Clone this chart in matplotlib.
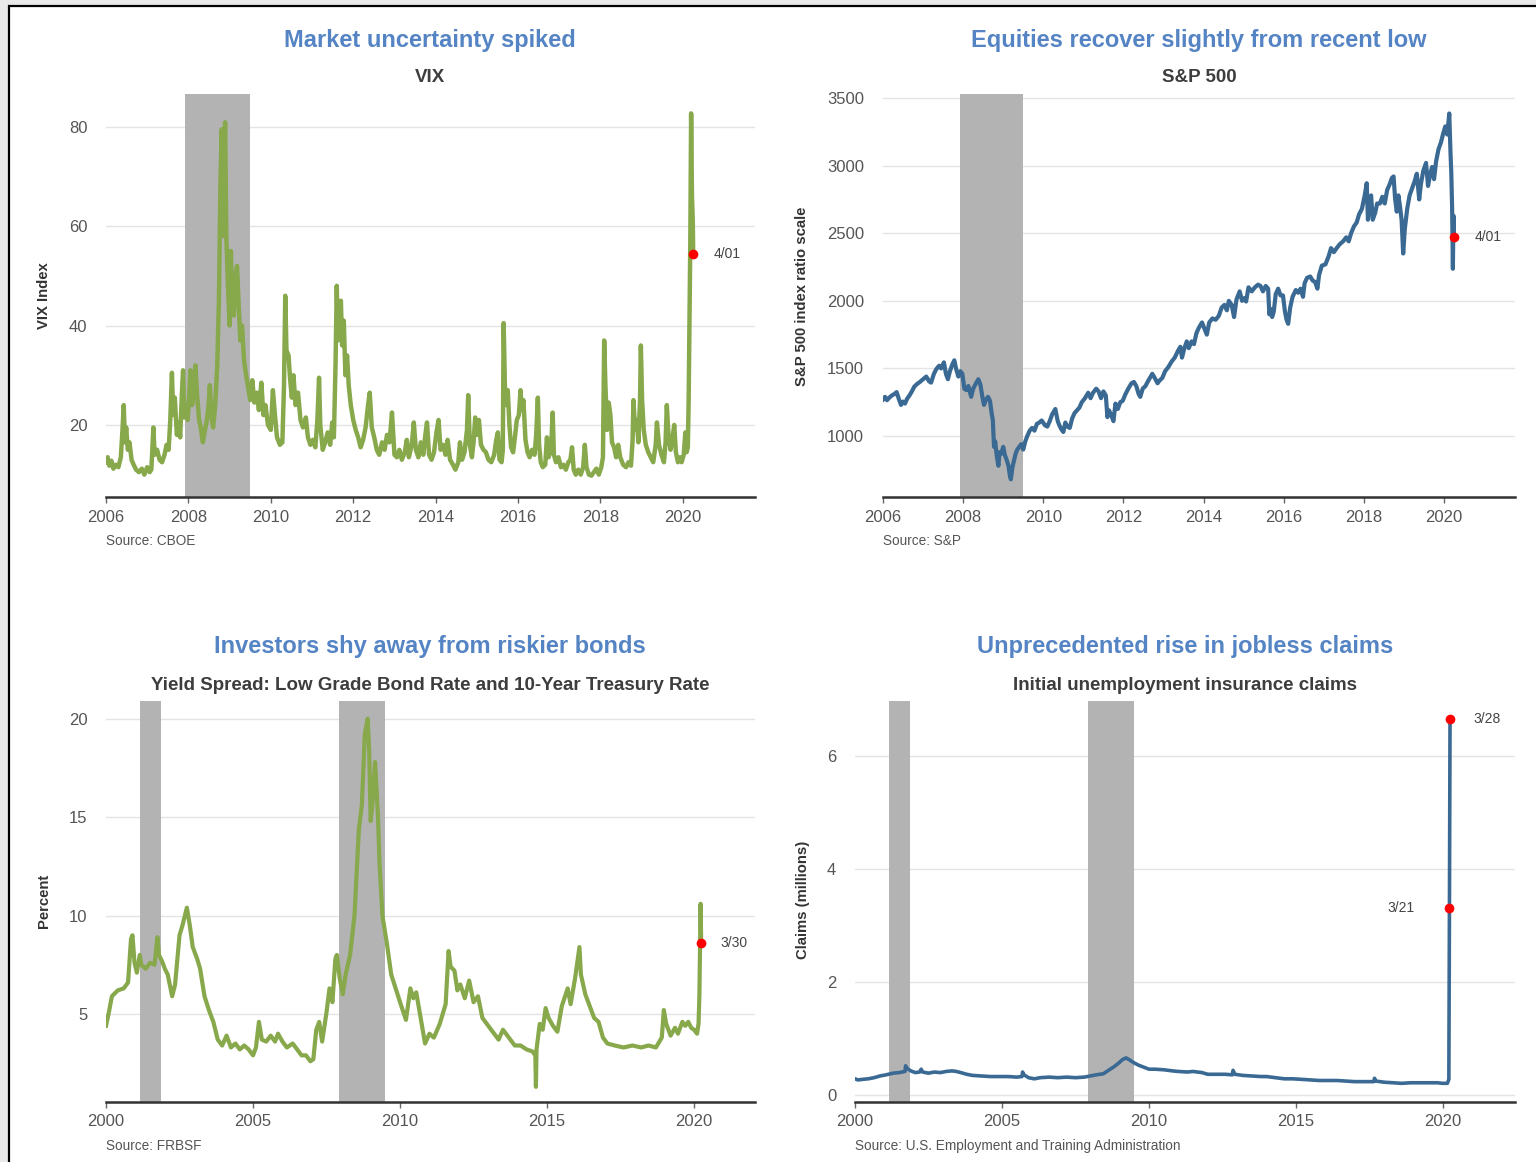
import matplotlib
matplotlib.use("Agg")
from matplotlib import pyplot as plt
from matplotlib.patches import Rectangle

plt.rcParams['font.family'] = ['Liberation Sans', 'DejaVu Sans']

W, H = 1536, 1162

## Data ##
vix_years = [2006.00, 2006.04, 2006.08, 2006.13, 2006.18, 2006.24, 2006.30, 2006.36, 2006.40, 2006.43, 2006.46, 2006.49, 2006.53, 2006.57, 2006.62, 2006.67, 2006.73, 2006.80, 2006.87, 2006.93,
             2007.00, 2007.06, 2007.10, 2007.15, 2007.18, 2007.24, 2007.30, 2007.36, 2007.42, 2007.47, 2007.52, 2007.56, 2007.60, 2007.63, 2007.67, 2007.72, 2007.77, 2007.80, 2007.84, 2007.87, 2007.90, 2007.94, 2007.98,
             2008.02, 2008.05, 2008.09, 2008.13, 2008.17, 2008.21, 2008.26, 2008.30, 2008.35, 2008.39, 2008.44, 2008.49, 2008.52, 2008.56, 2008.60, 2008.65, 2008.70, 2008.74, 2008.78, 2008.81, 2008.84, 2008.87, 2008.89, 2008.92, 2008.96,
             2009.00, 2009.03, 2009.06, 2009.10, 2009.14, 2009.18, 2009.22, 2009.26, 2009.30, 2009.35, 2009.40, 2009.45, 2009.50, 2009.55, 2009.60, 2009.66, 2009.71, 2009.77, 2009.82, 2009.87, 2009.93,
             2010.00, 2010.05, 2010.10, 2010.15, 2010.22, 2010.28, 2010.32, 2010.35, 2010.38, 2010.43, 2010.47, 2010.51, 2010.55, 2010.60, 2010.66, 2010.72, 2010.78, 2010.85, 2010.90, 2010.96,
             2011.02, 2011.08, 2011.13, 2011.17, 2011.20, 2011.26, 2011.32, 2011.38, 2011.44, 2011.49, 2011.53, 2011.57, 2011.60, 2011.63, 2011.66, 2011.70, 2011.73, 2011.77, 2011.81, 2011.85, 2011.89, 2011.94,
             2012.00, 2012.06, 2012.12, 2012.18, 2012.24, 2012.30, 2012.36, 2012.40, 2012.45, 2012.51, 2012.57, 2012.63, 2012.70, 2012.76, 2012.82, 2012.88, 2012.94,
             2013.00, 2013.06, 2013.12, 2013.18, 2013.25, 2013.30, 2013.35, 2013.42, 2013.47, 2013.52, 2013.58, 2013.64, 2013.70, 2013.75, 2013.79, 2013.84, 2013.90, 2013.96,
             2014.02, 2014.07, 2014.12, 2014.18, 2014.24, 2014.29, 2014.35, 2014.42, 2014.48, 2014.55, 2014.59, 2014.64, 2014.70, 2014.76, 2014.79, 2014.83, 2014.88, 2014.92, 2014.96,
             2015.01, 2015.05, 2015.10, 2015.16, 2015.22, 2015.28, 2015.35, 2015.42, 2015.47, 2015.51, 2015.55, 2015.60, 2015.63, 2015.65, 2015.68, 2015.71, 2015.75, 2015.79, 2015.83, 2015.88, 2015.93, 2015.97,
             2016.02, 2016.06, 2016.09, 2016.13, 2016.18, 2016.23, 2016.28, 2016.34, 2016.40, 2016.44, 2016.48, 2016.51, 2016.55, 2016.60, 2016.66, 2016.70, 2016.74, 2016.80, 2016.84, 2016.87, 2016.92, 2016.98,
             2017.04, 2017.10, 2017.16, 2017.22, 2017.27, 2017.31, 2017.35, 2017.40, 2017.46, 2017.52, 2017.58, 2017.62, 2017.66, 2017.72, 2017.78, 2017.84, 2017.90, 2017.96,
             2018.02, 2018.06, 2018.09, 2018.12, 2018.16, 2018.20, 2018.24, 2018.28, 2018.33, 2018.38, 2018.43, 2018.48, 2018.55, 2018.62, 2018.68, 2018.74, 2018.78, 2018.80, 2018.84, 2018.88, 2018.92, 2018.96, 2018.98,
             2019.01, 2019.05, 2019.10, 2019.16, 2019.22, 2019.28, 2019.34, 2019.37, 2019.42, 2019.48, 2019.54, 2019.58, 2019.61, 2019.65, 2019.70, 2019.75, 2019.79, 2019.83, 2019.88, 2019.93, 2019.97,
             2020.02, 2020.06, 2020.09, 2020.12, 2020.14, 2020.16, 2020.18, 2020.20, 2020.22, 2020.24, 2020.25]
vix_values = [12.5, 13.5, 11.8, 12.8, 11.2, 12.0, 11.5, 13.5, 19.0, 24.0, 16.5, 19.5, 15.0, 16.5, 13.0, 12.0, 11.0, 10.5, 11.2, 10.0,
              11.5, 10.5, 11.0, 19.5, 14.0, 15.0, 13.0, 12.5, 14.0, 16.0, 15.0, 21.0, 30.5, 22.0, 25.5, 18.0, 20.5, 17.5, 26.0, 31.0, 21.5, 24.0, 21.0,
              26.0, 31.0, 24.0, 27.5, 32.0, 26.0, 21.0, 19.5, 16.5, 18.5, 20.5, 24.0, 28.0, 21.5, 19.5, 24.0, 32.0, 45.0, 70.0, 79.5, 58.0, 72.0, 80.9, 58.0, 48.0,
              40.0, 55.0, 45.0, 42.0, 50.0, 52.0, 44.0, 37.0, 40.0, 33.0, 30.0, 27.5, 25.0, 29.0, 24.5, 26.5, 23.0, 28.5, 22.0, 24.0, 20.0,
              19.0, 27.0, 22.0, 17.5, 16.0, 16.5, 28.0, 46.0, 35.0, 34.0, 29.0, 25.5, 30.0, 24.0, 26.5, 21.0, 19.5, 21.5, 17.5, 16.0,
              17.0, 15.5, 21.0, 29.5, 20.0, 15.0, 16.5, 18.5, 16.0, 20.5, 17.5, 32.0, 48.0, 37.0, 42.0, 45.0, 36.0, 41.0, 30.0, 34.0, 28.0, 24.0,
              21.0, 19.0, 17.5, 15.5, 17.0, 19.5, 24.0, 26.5, 19.5, 17.5, 15.0, 14.0, 16.5, 15.0, 18.0, 16.5, 22.5,
              14.0, 13.5, 15.0, 13.0, 14.5, 17.0, 13.5, 16.0, 20.5, 15.0, 13.5, 16.5, 14.0, 18.0, 20.5, 14.0, 13.0, 14.5,
              18.5, 21.0, 15.0, 16.0, 14.0, 17.0, 13.0, 12.0, 11.0, 12.5, 16.5, 13.0, 14.5, 19.0, 26.0, 16.0, 13.5, 16.5, 21.5,
              18.0, 21.0, 16.0, 15.0, 14.5, 13.0, 12.5, 14.0, 17.0, 18.5, 13.0, 12.5, 15.0, 40.5, 28.0, 24.0, 27.0, 20.0, 15.5, 14.5, 18.0, 21.0,
              22.0, 27.0, 23.0, 25.0, 17.0, 14.5, 13.5, 15.0, 14.0, 18.0, 25.5, 16.0, 12.5, 11.5, 12.0, 17.5, 13.5, 15.0, 22.5, 14.0, 12.5, 13.5,
              11.5, 12.0, 11.0, 12.5, 13.0, 15.5, 11.0, 10.0, 11.0, 10.0, 11.5, 16.0, 11.5, 10.0, 9.8, 10.5, 11.2, 10.0,
              11.5, 13.5, 37.0, 28.0, 19.0, 24.5, 22.0, 16.5, 15.5, 13.5, 16.0, 13.5, 12.0, 11.5, 12.5, 11.8, 17.0, 25.0, 19.0, 21.0, 16.5, 25.0, 36.0,
              25.0, 19.0, 16.0, 14.5, 13.5, 12.5, 16.0, 20.5, 16.0, 14.0, 12.5, 16.5, 24.0, 18.0, 15.0, 17.5, 20.0, 14.5, 12.5, 13.5, 12.5,
              14.0, 18.5, 14.5, 15.5, 25.0, 40.0, 57.0, 82.7, 66.0, 61.0, 54.4]

sp_years = [2006.00, 2006.05, 2006.10, 2006.16, 2006.22, 2006.28, 2006.34, 2006.40, 2006.45, 2006.50, 2006.55, 2006.60, 2006.66, 2006.72, 2006.78, 2006.85, 2006.92,
            2007.00, 2007.08, 2007.15, 2007.20, 2007.27, 2007.33, 2007.40, 2007.45, 2007.52, 2007.57, 2007.62, 2007.67, 2007.73, 2007.78, 2007.83, 2007.88, 2007.93, 2007.98,
            2008.03, 2008.08, 2008.13, 2008.20, 2008.25, 2008.32, 2008.38, 2008.43, 2008.48, 2008.52, 2008.57, 2008.62, 2008.67, 2008.71, 2008.74, 2008.77, 2008.80, 2008.84, 2008.88, 2008.91, 2008.95,
            2009.00, 2009.04, 2009.09, 2009.13, 2009.17, 2009.19, 2009.23, 2009.27, 2009.31, 2009.35, 2009.40, 2009.45, 2009.50, 2009.55, 2009.60, 2009.66, 2009.72, 2009.78, 2009.84, 2009.90, 2009.96,
            2010.04, 2010.10, 2010.16, 2010.22, 2010.30, 2010.36, 2010.40, 2010.45, 2010.50, 2010.55, 2010.60, 2010.66, 2010.72, 2010.78, 2010.84, 2010.90, 2010.96,
            2011.04, 2011.12, 2011.18, 2011.24, 2011.32, 2011.38, 2011.44, 2011.50, 2011.56, 2011.60, 2011.64, 2011.70, 2011.75, 2011.80, 2011.86, 2011.92, 2011.98,
            2012.05, 2012.12, 2012.20, 2012.26, 2012.32, 2012.38, 2012.42, 2012.48, 2012.55, 2012.62, 2012.68, 2012.72, 2012.78, 2012.85, 2012.90, 2012.97,
            2013.04, 2013.12, 2013.20, 2013.28, 2013.36, 2013.42, 2013.46, 2013.52, 2013.58, 2013.63, 2013.70, 2013.76, 2013.82, 2013.88, 2013.96,
            2014.04, 2014.08, 2014.14, 2014.22, 2014.30, 2014.38, 2014.45, 2014.52, 2014.58, 2014.63, 2014.70, 2014.76, 2014.82, 2014.90, 2014.96,
            2015.02, 2015.06, 2015.12, 2015.20, 2015.28, 2015.36, 2015.42, 2015.48, 2015.55, 2015.61, 2015.64, 2015.67, 2015.71, 2015.75, 2015.80, 2015.86, 2015.92, 2015.98,
            2016.03, 2016.07, 2016.11, 2016.16, 2016.22, 2016.30, 2016.36, 2016.42, 2016.48, 2016.52, 2016.58, 2016.66, 2016.72, 2016.78, 2016.84, 2016.88, 2016.95,
            2017.04, 2017.12, 2017.18, 2017.25, 2017.32, 2017.40, 2017.48, 2017.56, 2017.62, 2017.68, 2017.75, 2017.82, 2017.88, 2017.95,
            2018.02, 2018.07, 2018.10, 2018.14, 2018.18, 2018.22, 2018.28, 2018.33, 2018.40, 2018.46, 2018.52, 2018.58, 2018.64, 2018.70, 2018.74, 2018.78, 2018.82, 2018.86, 2018.90, 2018.94, 2018.98,
            2019.02, 2019.08, 2019.14, 2019.20, 2019.26, 2019.32, 2019.38, 2019.42, 2019.48, 2019.55, 2019.60, 2019.65, 2019.70, 2019.75, 2019.80, 2019.86, 2019.92, 2019.98,
            2020.03, 2020.08, 2020.13, 2020.16, 2020.18, 2020.20, 2020.22, 2020.235, 2020.25]
sp_values = [1270, 1290, 1265, 1285, 1300, 1310, 1325, 1270, 1230, 1255, 1240, 1275, 1300, 1330, 1365, 1385, 1400,
             1420, 1440, 1405, 1395, 1460, 1495, 1520, 1500, 1545, 1460, 1420, 1480, 1530, 1560, 1490, 1440, 1480, 1460,
             1350, 1340, 1370, 1290, 1350, 1390, 1420, 1380, 1290, 1230, 1270, 1290, 1260, 1170, 1120, 920, 960, 850, 780, 880, 870,
             920, 860, 820, 780, 700, 680, 770, 820, 870, 900, 920, 940, 900, 960, 1000, 1040, 1060, 1040, 1090, 1100, 1115,
             1080, 1070, 1110, 1160, 1200, 1110, 1080, 1050, 1030, 1100, 1070, 1060, 1130, 1170, 1190, 1210, 1250,
             1280, 1320, 1280, 1320, 1350, 1330, 1280, 1330, 1300, 1140, 1190, 1150, 1110, 1240, 1200, 1250, 1260,
             1310, 1350, 1390, 1400, 1370, 1310, 1290, 1350, 1370, 1410, 1440, 1460, 1430, 1390, 1410, 1430,
             1480, 1510, 1550, 1580, 1630, 1660, 1580, 1650, 1700, 1650, 1700, 1680, 1760, 1800, 1840,
             1780, 1750, 1840, 1870, 1860, 1890, 1950, 1970, 1930, 2000, 1970, 1880, 2010, 2070, 2000,
             2020, 1995, 2100, 2070, 2100, 2120, 2110, 2070, 2110, 2090, 1900, 1940, 1880, 1920, 2050, 2090, 2040, 2040,
             1920, 1860, 1830, 1950, 2030, 2080, 2060, 2090, 2030, 2130, 2170, 2180, 2150, 2140, 2090, 2190, 2260,
             2270, 2330, 2390, 2360, 2390, 2420, 2440, 2470, 2440, 2500, 2550, 2580, 2640, 2680,
             2780, 2870, 2600, 2730, 2780, 2600, 2650, 2720, 2720, 2770, 2720, 2820, 2860, 2910, 2920, 2750, 2660, 2780, 2700, 2600, 2350,
             2530, 2680, 2780, 2830, 2880, 2940, 2750, 2860, 2960, 3020, 2850, 2930, 2990, 2900, 3030, 3120, 3170, 3240,
             3290, 3230, 3386, 3100, 2950, 2700, 2237, 2630, 2470]

spread_years = [2000.00, 2000.10, 2000.20, 2000.40, 2000.60, 2000.75, 2000.85, 2000.90, 2000.97, 2001.05, 2001.15, 2001.20, 2001.35, 2001.50, 2001.65, 2001.75, 2001.80, 2001.90,
                2002.00, 2002.10, 2002.25, 2002.35, 2002.50, 2002.60, 2002.75, 2002.85, 2002.95, 2003.10, 2003.20, 2003.35, 2003.50, 2003.65, 2003.80, 2003.95,
                2004.10, 2004.25, 2004.40, 2004.55, 2004.70, 2004.85, 2005.00, 2005.10, 2005.20, 2005.30, 2005.45, 2005.60, 2005.75, 2005.85,
                2006.00, 2006.15, 2006.35, 2006.50, 2006.65, 2006.80, 2006.95, 2007.05, 2007.15, 2007.25, 2007.35, 2007.50, 2007.60, 2007.70, 2007.80, 2007.85, 2007.95,
                2008.05, 2008.15, 2008.30, 2008.45, 2008.60, 2008.70, 2008.80, 2008.90, 2008.95, 2009.00, 2009.05, 2009.15, 2009.25, 2009.30, 2009.40, 2009.55, 2009.70, 2009.85,
                2010.00, 2010.20, 2010.35, 2010.45, 2010.55, 2010.70, 2010.85, 2011.00, 2011.15, 2011.35, 2011.55, 2011.65, 2011.72, 2011.85, 2011.95,
                2012.05, 2012.20, 2012.35, 2012.50, 2012.65, 2012.80, 2013.00, 2013.20, 2013.35, 2013.50, 2013.70, 2013.90,
                2014.10, 2014.30, 2014.50, 2014.60, 2014.62, 2014.64, 2014.75, 2014.85, 2014.95, 2015.05, 2015.20, 2015.35, 2015.50, 2015.70, 2015.80, 2015.95,
                2016.10, 2016.15, 2016.30, 2016.45, 2016.60, 2016.75, 2016.90, 2017.05, 2017.30, 2017.60, 2017.90, 2018.20, 2018.45, 2018.70, 2018.90, 2018.97,
                2019.05, 2019.20, 2019.35, 2019.45, 2019.60, 2019.70, 2019.80, 2019.90, 2020.00, 2020.10, 2020.15, 2020.18, 2020.22, 2020.24]
spread_values = [4.4, 5.1, 5.9, 6.2, 6.3, 6.6, 8.8, 9.0, 7.6, 7.1, 8.0, 7.5, 7.3, 7.6, 7.5, 8.9, 8.0, 7.7,
                 7.3, 7.0, 5.9, 6.5, 9.0, 9.5, 10.4, 9.5, 8.4, 7.8, 7.3, 5.9, 5.2, 4.6, 3.7, 3.4,
                 3.9, 3.3, 3.5, 3.2, 3.4, 3.2, 2.9, 3.3, 4.6, 3.7, 3.6, 3.9, 3.6, 4.0,
                 3.6, 3.3, 3.5, 3.2, 2.9, 2.9, 2.6, 2.7, 4.2, 4.6, 3.6, 5.1, 6.3, 5.6, 7.8, 8.0, 6.8,
                 6.0, 7.0, 8.0, 10.0, 14.4, 15.6, 19.2, 20.0, 18.4, 14.8, 15.5, 17.8, 15.0, 12.7, 10.0, 8.6, 7.0, 6.3,
                 5.6, 4.7, 6.3, 5.8, 6.1, 4.8, 3.5, 4.0, 3.8, 4.5, 5.5, 8.2, 7.4, 7.2, 6.2,
                 6.5, 5.8, 6.7, 5.6, 5.9, 4.8, 4.4, 4.0, 3.7, 4.2, 3.8, 3.4,
                 3.4, 3.2, 3.1, 2.9, 1.3, 3.2, 4.5, 4.2, 5.3, 4.8, 4.4, 4.1, 5.4, 6.3, 5.5, 6.8,
                 8.4, 7.0, 6.0, 5.4, 4.8, 4.6, 3.8, 3.5, 3.4, 3.3, 3.4, 3.3, 3.4, 3.3, 3.8, 5.2,
                 4.5, 3.9, 4.3, 4.0, 4.6, 4.4, 4.6, 4.3, 4.2, 4.0, 4.5, 6.0, 10.6, 8.6]

claims_years = [2000.00, 2000.10, 2000.25, 2000.45, 2000.65, 2000.85, 2001.05, 2001.30, 2001.50, 2001.70, 2001.72, 2001.78, 2001.90,
                2002.05, 2002.20, 2002.25, 2002.30, 2002.50, 2002.70, 2002.90, 2003.10, 2003.30, 2003.45, 2003.60, 2003.80,
                2004.00, 2004.30, 2004.60, 2004.90, 2005.20, 2005.50, 2005.68, 2005.70, 2005.75, 2005.90,
                2006.10, 2006.30, 2006.60, 2006.90, 2007.20, 2007.50, 2007.80, 2008.00, 2008.20, 2008.45, 2008.65, 2008.80, 2008.95,
                2009.10, 2009.22, 2009.35, 2009.50, 2009.65, 2009.80, 2010.00, 2010.20, 2010.50, 2010.80, 2011.00, 2011.30, 2011.50, 2011.80,
                2012.00, 2012.30, 2012.60, 2012.83, 2012.86, 2012.92, 2013.20, 2013.50, 2013.80, 2014.00, 2014.30, 2014.60, 2014.90,
                2015.20, 2015.50, 2015.80, 2016.10, 2016.40, 2016.70, 2017.00, 2017.40, 2017.65, 2017.67, 2017.72,
                2018.00, 2018.30, 2018.60, 2018.90, 2019.20, 2019.50, 2019.80, 2020.00, 2020.15, 2020.20, 2020.22, 2020.24]
claims_values = [0.29, 0.27, 0.28, 0.29, 0.31, 0.34, 0.36, 0.39, 0.40, 0.42, 0.52, 0.47, 0.43,
                 0.40, 0.41, 0.46, 0.41, 0.39, 0.41, 0.40, 0.42, 0.43, 0.42, 0.40, 0.37,
                 0.35, 0.34, 0.33, 0.33, 0.33, 0.32, 0.33, 0.41, 0.36, 0.31,
                 0.29, 0.31, 0.32, 0.31, 0.32, 0.31, 0.32, 0.34, 0.36, 0.38, 0.45, 0.50, 0.56,
                 0.63, 0.66, 0.62, 0.57, 0.53, 0.50, 0.46, 0.46, 0.45, 0.43, 0.42, 0.41, 0.42, 0.40,
                 0.37, 0.37, 0.37, 0.36, 0.44, 0.37, 0.35, 0.34, 0.33, 0.33, 0.31, 0.29, 0.29,
                 0.28, 0.27, 0.26, 0.26, 0.26, 0.25, 0.24, 0.24, 0.24, 0.30, 0.25,
                 0.23, 0.22, 0.21, 0.22, 0.22, 0.22, 0.22, 0.21, 0.21, 0.28, 3.31, 6.65]

recessions_short = [(2007.92, 2009.49)]
recessions_long = [(2001.17, 2001.88), (2007.92, 2009.49)]

GREEN = '#87a84b'
BLUE = '#3a6a93'
TITLE_BLUE = '#5584c4'
GRAY_TXT = '#555555'


## Utility Functions ##
def fx(x):
    return x / W

def fy(y):
    return 1 - y / H

def make_axes(fig, left, top, right, bottom):
    return fig.add_axes([fx(left), fy(bottom), (right - left) / W, (bottom - top) / H])

def style_axes(ax, xlim, ylim, xticks, yticks, recessions):
    ax.set_facecolor('none')
    ax.set_xlim(*xlim)
    ax.set_ylim(*ylim)
    ax.set_xticks(xticks)
    ax.set_xticklabels([str(t) for t in xticks])
    ax.set_yticks(yticks)
    ax.set_yticklabels([str(t) for t in yticks])
    for s in ['top', 'right', 'left']:
        ax.spines[s].set_visible(False)
    ax.spines['bottom'].set_color('#333333')
    ax.spines['bottom'].set_linewidth(1.8)
    ax.spines['bottom'].set_zorder(6)
    ax.yaxis.grid(True, color='#e4e4e4', lw=1.0, zorder=0)
    ax.set_axisbelow(True)
    ax.tick_params(axis='y', length=0, pad=13.5, labelsize=12, labelcolor=GRAY_TXT)
    ax.tick_params(axis='x', length=4, width=1, color='#666666', pad=5, labelsize=12, labelcolor=GRAY_TXT)
    for a, b in recessions:
        ax.axvspan(a, b, color='#b3b3b3', lw=0, zorder=1)

def mark(ax, x, y, label, dx=15):
    ax.plot([x], [y], 'o', color='red', ms=7, mec='none', zorder=5)
    ax.annotate(label, (x, y), xytext=(dx, 0), textcoords='offset points',
                ha='left' if dx > 0 else 'right', va='center', fontsize=10, color='#444444')

def panel_text(fig, cx, y_title, y_sub, title, sub):
    fig.text(fx(cx), fy(y_title), title, ha='center', va='center', fontsize=17,
             fontweight='bold', color=TITLE_BLUE)
    fig.text(fx(cx), fy(y_sub), sub, ha='center', va='center', fontsize=13.5,
             fontweight='bold', color='#3d3d3d')


fig = plt.figure(figsize=(W / 100, H / 100), dpi=100)
fig.patch.set_facecolor('#e9e9e9')
fig.add_artist(Rectangle((fx(8.5), -0.05), 1.1, fy(6) + 0.05, transform=fig.transFigure,
                         facecolor='white', edgecolor='black', lw=1.6, zorder=-5))

# VIX
ax1 = make_axes(fig, 106, 94, 755, 497)
style_axes(ax1, (2006, 2021.75), (5.5, 86.6), list(range(2006, 2021, 2)), [20, 40, 60, 80], recessions_short)
ax1.plot(vix_years, vix_values, color=GREEN, lw=3.2, zorder=3, solid_joinstyle='round')
mark(ax1, vix_years[-1], vix_values[-1], '4/01')
panel_text(fig, 430, 40, 78, 'Market uncertainty spiked', 'VIX')
fig.text(fx(44), fy(296), 'VIX Index', rotation=90, ha='center', va='center', fontsize=10.7,
         fontweight='bold', color='#333333')
fig.text(fx(106), fy(541), 'Source: CBOE', ha='left', va='center', fontsize=9.8, color=GRAY_TXT)

# S&P 500
ax2 = make_axes(fig, 883, 94, 1515, 497)
style_axes(ax2, (2006, 2021.77), (549, 3530), list(range(2006, 2021, 2)), [1000, 1500, 2000, 2500, 3000, 3500], recessions_short)
ax2.plot(sp_years, sp_values, color=BLUE, lw=3.0, zorder=3, solid_joinstyle='round')
mark(ax2, sp_years[-1], sp_values[-1], '4/01')
panel_text(fig, 1199, 40, 78, 'Equities recover slightly from recent low', 'S&P 500')
fig.text(fx(802), fy(296), 'S&P 500 index ratio scale', rotation=90, ha='center', va='center',
         fontsize=10.7, fontweight='bold', color='#333333')
fig.text(fx(883), fy(541), 'Source: S&P', ha='left', va='center', fontsize=9.8, color=GRAY_TXT)

# Yield spread
ax3 = make_axes(fig, 106, 701, 755, 1102)
style_axes(ax3, (2000, 2022.07), (0.53, 20.9), list(range(2000, 2021, 5)), [5, 10, 15, 20], recessions_long)
ax3.plot(spread_years, spread_values, color=GREEN, lw=3.0, zorder=3, solid_joinstyle='round')
mark(ax3, spread_years[-1], spread_values[-1], '3/30', dx=14)
panel_text(fig, 430, 646, 685, 'Investors shy away from riskier bonds',
           'Yield Spread: Low Grade Bond Rate and 10-Year Treasury Rate')
fig.text(fx(44), fy(901), 'Percent', rotation=90, ha='center', va='center', fontsize=10.7,
         fontweight='bold', color='#333333')
fig.text(fx(106), fy(1146), 'Source: FRBSF', ha='left', va='center', fontsize=9.8, color=GRAY_TXT)

# Jobless claims
ax4 = make_axes(fig, 855, 701, 1515, 1102)
style_axes(ax4, (2000, 2022.45), (-0.12, 6.97), list(range(2000, 2021, 5)), [0, 2, 4, 6], recessions_long)
ax4.plot(claims_years, claims_values, color=BLUE, lw=2.6, zorder=3, solid_joinstyle='round')
mark(ax4, claims_years[-1], claims_values[-1], '3/28', dx=17)
mark(ax4, claims_years[-2], claims_values[-2], '3/21', dx=-25)
panel_text(fig, 1185, 646, 685, 'Unprecedented rise in jobless claims', 'Initial unemployment insurance claims')
fig.text(fx(803), fy(900), 'Claims (millions)', rotation=90, ha='center', va='center', fontsize=10.7,
         fontweight='bold', color='#333333')
fig.text(fx(855), fy(1146), 'Source: U.S. Employment and Training Administration', ha='left', va='center',
         fontsize=9.8, color=GRAY_TXT)

fig.savefig('out.png', dpi=100, facecolor=fig.get_facecolor())
